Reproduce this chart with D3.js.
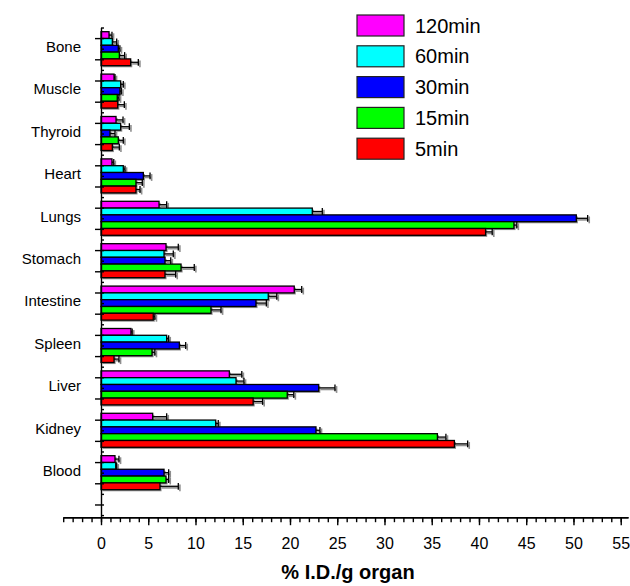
<!DOCTYPE html>
<html>
<head>
<meta charset="utf-8">
<script src="https://cdn.jsdelivr.net/npm/d3@7"></script>
<style>
  html, body { margin: 0; padding: 0; background: #fff; }
  svg { display: block; font-family: "Liberation Sans", Arial, Helvetica, sans-serif; }
</style>
</head>
<body>
<svg id="chart" width="630" height="586"></svg>
<script>
// Organ uptake (% injected dose per gram) at five time points
const organs = ["Bone", "Muscle", "Thyroid", "Heart", "Lungs", "Stomach", "Intestine", "Spleen", "Liver", "Kidney", "Blood"];
const series = ["120min", "60min", "30min", "15min", "5min"];
const colors = ["#ff00ff", "#00ffff", "#0000ff", "#00ff00", "#ff0000"];

const v120 = [0.85, 1.38, 1.59, 1.16, 6.14, 6.88, 20.45, 3.17, 13.58, 5.47, 1.48];
const e120 = [0.31, 0.10, 0.74, 0.19, 0.81, 1.30, 0.79, 0.13, 1.32, 1.48, 0.42];
const v60  = [1.20, 2.08, 2.08, 2.36, 22.36, 6.67, 17.70, 6.95, 14.29, 12.14, 1.56];
const e60  = [0.46, 0.28, 0.92, 0.18, 1.06, 0.98, 0.90, 0.21, 0.84, 0.27, 0.10];
const v30  = [1.83, 2.00, 0.95, 4.48, 50.30, 6.77, 16.40, 8.29, 23.04, 22.75, 6.67];
const e30  = [0.17, 0.15, 0.53, 0.71, 1.20, 0.61, 1.10, 0.67, 1.72, 0.42, 0.49];
const v15  = [1.94, 1.72, 1.83, 3.70, 43.70, 8.47, 11.64, 5.40, 19.71, 35.60, 6.88];
const e15  = [0.56, 0.18, 0.53, 0.67, 0.30, 1.40, 1.06, 0.30, 0.69, 0.90, 0.28];
const v5   = [3.14, 1.77, 1.20, 3.70, 40.70, 6.77, 5.53, 1.38, 16.10, 37.40, 6.24];
const e5   = [0.81, 0.70, 0.74, 0.43, 0.70, 1.13, 0.17, 0.52, 1.00, 1.40, 1.94];

const xTicks = d3.range(0, 56, 5);
const xTitle = "% I.D./g organ";

const values = [v120, v60, v30, v15, v5];
const errors = [e120, e60, e30, e15, e5];

const svg = d3.select("#chart");

// Scales: x is the dose value, yIdx maps organ index to the group centre
const x = d3.scaleLinear().domain([-4, 55.77]).range([63.2, 628]);
const yIdx = d3.scaleLinear().domain([-0.5, 11.05]).range([27.5, 517.2]);
const inner = d3.scaleBand().domain(series).range([-17, 17]);

const rows = [];
organs.forEach((o, i) => {
  series.forEach((s, k) => {
    rows.push({ organ: o, i, s, k, v: values[k][i], e: errors[k][i] });
  });
});

const shadow = "#8e8e8e";
const off = 1.6;

// Bar shadows
svg.append("g").selectAll("rect").data(rows).join("rect")
  .attr("x", x(0) + off)
  .attr("y", d => yIdx(d.i) + inner(d.s) + off)
  .attr("width", d => x(d.v) - x(0))
  .attr("height", inner.bandwidth())
  .attr("fill", shadow);

// Error bar shadows
const errShadow = svg.append("g").attr("stroke", shadow).attr("stroke-width", 1.6);
rows.forEach(d => {
  const yc = yIdx(d.i) + inner(d.s) + inner.bandwidth() / 2;
  errShadow.append("line").attr("x1", x(d.v) + off).attr("x2", x(d.v + d.e) + off)
    .attr("y1", yc + off).attr("y2", yc + off);
  errShadow.append("line").attr("x1", x(d.v + d.e) + off).attr("x2", x(d.v + d.e) + off)
    .attr("y1", yc - inner.bandwidth() / 2 + off).attr("y2", yc + inner.bandwidth() / 2 + off);
});

// Bars
svg.append("g").selectAll("rect").data(rows).join("rect")
  .attr("x", x(0))
  .attr("y", d => yIdx(d.i) + inner(d.s))
  .attr("width", d => x(d.v) - x(0))
  .attr("height", inner.bandwidth())
  .attr("fill", d => colors[d.k])
  .attr("stroke", "#000")
  .attr("stroke-width", 1.3);

// Error bars
const err = svg.append("g").attr("stroke", "#000").attr("stroke-width", 1.3);
rows.forEach(d => {
  const yc = yIdx(d.i) + inner(d.s) + inner.bandwidth() / 2;
  err.append("line").attr("x1", x(d.v)).attr("x2", x(d.v + d.e))
    .attr("y1", yc).attr("y2", yc);
  err.append("line").attr("x1", x(d.v + d.e)).attr("x2", x(d.v + d.e))
    .attr("y1", yc - inner.bandwidth() / 2).attr("y2", yc + inner.bandwidth() / 2);
});

// Y axis: major ticks at quarter offsets, minor ticks in between
const majorY = [];
const minorY = [];
for (let t = -0.25; t <= 11.0; t += 0.5) majorY.push(t);
for (let t = -0.5; t <= 11.0; t += 0.5) minorY.push(t);

const yAxisG = svg.append("g").attr("transform", `translate(${x(0)},0)`);
yAxisG.call(d3.axisLeft(yIdx).tickValues(majorY).tickFormat("").tickSizeInner(6).tickSizeOuter(0));
svg.append("g").attr("transform", `translate(${x(0)},0)`)
  .call(d3.axisRight(yIdx).tickValues(minorY).tickFormat("").tickSizeInner(3).tickSizeOuter(0))
  .call(g => g.select(".domain").remove());
svg.append("g").attr("transform", `translate(${x(0)},0)`)
  .call(d3.axisRight(yIdx).tickValues(majorY).tickFormat("").tickSizeInner(3).tickSizeOuter(0))
  .call(g => g.select(".domain").remove());

// Category labels
svg.append("g").selectAll("text").data(organs).join("text")
  .attr("x", 81)
  .attr("y", (d, i) => yIdx(i) - 2)
  .attr("dy", "0.35em")
  .attr("text-anchor", "end")
  .attr("font-size", 15)
  .attr("fill", "#000")
  .text(d => d);

// X axis
const xAxisY = yIdx(11.05);
svg.append("g").attr("transform", `translate(0,${xAxisY})`)
  .call(d3.axisBottom(x).tickValues(d3.range(-4, 56, 1)).tickFormat("").tickSizeInner(5).tickSizeOuter(0));
svg.append("g").attr("transform", `translate(0,${xAxisY})`)
  .call(d3.axisBottom(x).tickValues(xTicks).tickFormat(d3.format("d")).tickSizeInner(8).tickSizeOuter(0).tickPadding(12))
  .call(g => g.selectAll("text").attr("font-size", 16).attr("fill", "#000")
    .attr("font-family", "\"Liberation Sans\", Arial, Helvetica, sans-serif"));

svg.selectAll(".domain, .tick line").attr("stroke", "#000").attr("stroke-width", 1.4);

// Axis title
svg.append("text")
  .attr("x", 348).attr("y", 579)
  .attr("text-anchor", "middle")
  .attr("font-size", 20)
  .attr("font-weight", "bold")
  .text(xTitle);

// Legend
const legend = svg.append("g");
series.forEach((s, k) => {
  const top = 15 + k * 30.8;
  legend.append("rect")
    .attr("x", 357).attr("y", top).attr("width", 47).attr("height", 21)
    .attr("fill", colors[k]).attr("stroke", "#222").attr("stroke-width", 1.2);
  legend.append("text")
    .attr("x", 415).attr("y", top + 10.5).attr("dy", "0.35em")
    .attr("font-size", 20).attr("fill", "#000")
    .text(s);
});
</script>
</body>
</html>
